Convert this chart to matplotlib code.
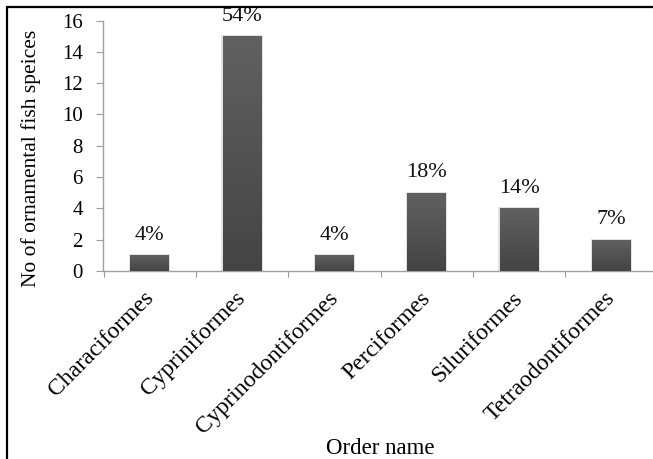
import matplotlib
matplotlib.use("Agg")
import matplotlib.pyplot as plt
import matplotlib.transforms as mtransforms
import numpy as np
from matplotlib.patches import Rectangle
from matplotlib.colors import LinearSegmentedColormap

orders = ["Characiformes", "Cypriniformes", "Cyprinodontiformes",
          "Perciformes", "Siluriformes", "Tetraodontiformes"]
species_counts = [1, 15, 1, 5, 4, 2]
percent_labels = ["4%", "54%", "4%", "18%", "14%", "7%"]
y_ticks = [0, 2, 4, 6, 8, 10, 12, 14, 16]

plt.rcParams["font.family"] = ["Liberation Serif", "DejaVu Serif"]

fig = plt.figure(figsize=(6.53, 4.59), dpi=100)
W, H = 653, 459
ax = fig.add_axes([103.5 / W, 1 - 271 / H, (657.5 - 103.5) / W, (271 - 20.5) / H])

x = np.arange(len(orders))
bar_w = 0.42
bars = ax.bar(x, species_counts, width=bar_w, color="none", edgecolor="none", zorder=3)

grad = LinearSegmentedColormap.from_list("barshade", ["#444444", "#616161"])
gy = np.linspace(0, 1, 256).reshape(-1, 1)
for b in bars:
    x0, y0 = b.get_x(), b.get_y()
    w, h = b.get_width(), b.get_height()
    # faint shadow around each bar
    halo = Rectangle((x0 - 0.014, y0), w + 0.028, h + 0.06, facecolor="#e2e2e2",
                     edgecolor="none", zorder=2)
    ax.add_patch(halo)
    im = ax.imshow(gy, cmap=grad, origin="lower", aspect="auto",
                   extent=[x0, x0 + w, y0, y0 + h], zorder=3)
    clip = Rectangle((x0, y0), w, h, transform=ax.transData)
    im.set_clip_path(clip)

for xi, v, lab in zip(x, species_counts, percent_labels):
    ax.annotate(lab, (xi, v), xytext=(0, 11), textcoords="offset points",
                ha="center", va="baseline", fontsize=16, color="#111111",
                annotation_clip=False, clip_on=False)

ax.set_xlim(-0.5, len(orders) - 0.5)
ax.set_ylim(0, 16)
ax.set_yticks(y_ticks)
ax.set_yticklabels([str(t) for t in y_ticks], fontsize=15)
ax.set_xticks(np.arange(len(orders) + 1) - 0.5, minor=False)
ax.set_xticklabels([""] * (len(orders) + 1))
ax.set_xticks(x, minor=True)
ax.set_xticklabels(orders, minor=True, rotation=45, ha="right", va="top",
                   rotation_mode="anchor", fontsize=17)
ax.tick_params(axis="x", which="minor", length=0, pad=12)
ax.tick_params(axis="x", which="major", length=4.5, color="#9a9a9a", direction="out")
ax.tick_params(axis="y", length=5, color="#9a9a9a", pad=10)

# nudge the slanted category names a little to the left
shift = mtransforms.ScaledTranslation(-7 / 100, 0, fig.dpi_scale_trans)
for lbl in ax.get_xticklabels(minor=True):
    lbl.set_transform(lbl.get_transform() + shift)

for s in ["top", "right"]:
    ax.spines[s].set_visible(False)
for s in ["left", "bottom"]:
    ax.spines[s].set_color("#a0a0a0")
    ax.spines[s].set_linewidth(1.0)

fig.text(31 / W, 1 - 158 / H, "No of ornamental fish speices", rotation=90,
         ha="center", va="center", fontsize=15.5)
fig.text(380 / W, 1 - 454 / H, "Order name", ha="center", va="baseline", fontsize=16.5)

# frame around the figure
frame = Rectangle((7 / W, -0.05), 1.1, 1 - 7 / H + 0.05, transform=fig.transFigure,
                  facecolor="none", edgecolor="black", linewidth=1.6, zorder=10)
fig.patches.append(frame)

fig.savefig("out.png", dpi=100)
